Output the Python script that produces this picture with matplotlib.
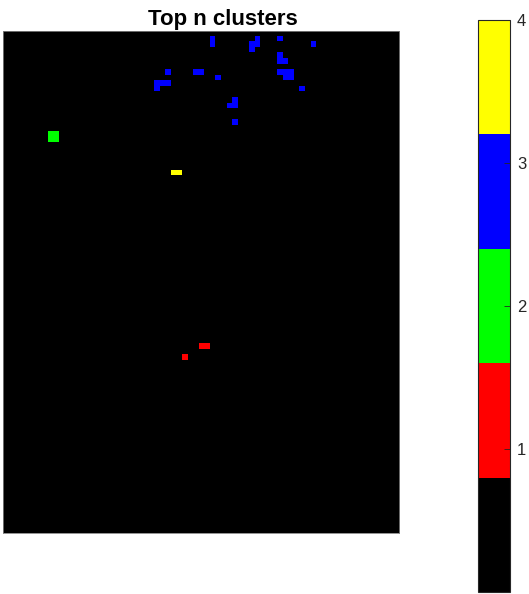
import numpy as np
import matplotlib
matplotlib.use("Agg")
import matplotlib.pyplot as plt
from matplotlib.colors import ListedColormap, Normalize
from matplotlib.colorbar import ColorbarBase

plt.rcParams["font.family"] = ["Liberation Sans", "DejaVu Sans"]

# Bildgroesse (Zeilen x Spalten) und Cluster-Pixel (Zeile, Spalte) je Label
n_rows, n_cols = 90, 71

cl1_rows = [56, 56, 58]
cl1_cols = [35, 36, 32]

cl2_rows = [18, 18, 19, 19]
cl2_cols = [8, 9, 8, 9]

cl3_rows = [1, 2, 1, 2, 2, 3, 1, 2, 4, 5, 5, 7, 7, 7, 8, 8, 10,
            7, 7, 7, 8, 9, 9, 9, 10, 12, 13, 13, 16]
cl3_cols = [37, 37, 45, 44, 45, 44, 49, 55, 49, 49, 50, 49, 50, 51, 50, 51, 53,
            29, 34, 35, 38, 27, 28, 29, 27, 41, 40, 41, 41]

cl4_rows = [25, 25]
cl4_cols = [30, 31]

cluster_colors = ["#000000", "#ff0000", "#00ff00", "#0000ff", "#ffff00"]
cbar_ticks = [1, 2, 3, 4]

grid = np.zeros((n_rows, n_cols))
for label, rr, cc in [(1, cl1_rows, cl1_cols), (2, cl2_rows, cl2_cols),
                      (3, cl3_rows, cl3_cols), (4, cl4_rows, cl4_cols)]:
    grid[rr, cc] = label

W, H = 529, 594
fig = plt.figure(figsize=(W / 100, H / 100), dpi=100)

ax = fig.add_axes([2.5 / W, (H - 532.7) / H, 396.2 / W, 502.2 / H])
cmap = ListedColormap(cluster_colors)
norm = Normalize(vmin=0, vmax=4)
ax.imshow(grid, cmap=cmap, norm=norm, interpolation="nearest", aspect="auto")
ax.set_xticks([])
ax.set_yticks([])
for s in ax.spines.values():
    s.set_color("#808080")
    s.set_linewidth(0.6)
# Titel sitzt im Original etwas rechts von der Achsenmitte
ax.set_title("Top n clusters", fontsize=16, fontweight="bold", pad=4, x=0.555)

cax = fig.add_axes([478 / W, 2 / H, 32 / W, 572 / H])
cb = ColorbarBase(cax, cmap=cmap, norm=norm, ticks=cbar_ticks)
cb.outline.set_edgecolor("#262626")
cb.outline.set_linewidth(0.8)
cax.tick_params(direction="in", length=4, width=0.6, labelsize=12,
                colors="#262626", pad=5)

fig.savefig("out.png", dpi=100)
